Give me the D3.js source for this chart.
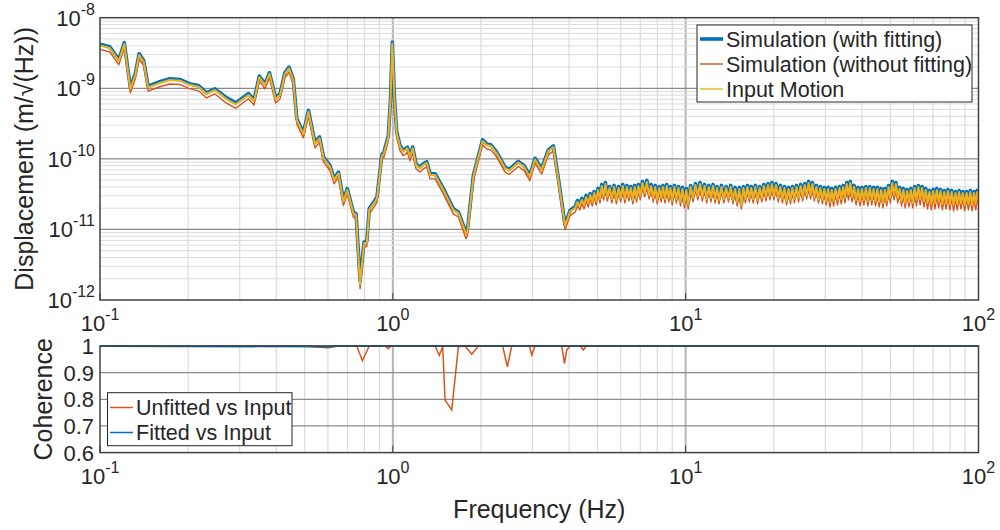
<!DOCTYPE html>
<html>
<head>
<meta charset="utf-8">
<script src="https://cdn.jsdelivr.net/npm/d3@7/dist/d3.min.js"></script>
<style>
  body { margin: 0; background: #fff; }
  svg text { font-family: "Liberation Sans", Arial, sans-serif; fill: #262626; }
</style>
</head>
<body>
<div id="chart"></div>
<script>

// ---- DATA ----
// frequency axis shared by the three ASD curves (Hz)
const freqAsd = [
  0.100, 0.108, 0.116, 0.121, 0.127, 0.132, 0.136, 0.141, 0.146, 0.160,
  0.173, 0.188, 0.203, 0.217, 0.231, 0.247, 0.271, 0.291, 0.321, 0.336,
  0.350, 0.366, 0.379, 0.398, 0.412, 0.428, 0.442, 0.457, 0.470, 0.495,
  0.515, 0.542, 0.562, 0.580, 0.610, 0.630, 0.652, 0.678, 0.699, 0.733,
  0.749, 0.773, 0.797, 0.815, 0.831, 0.869, 0.883, 0.917, 0.933, 0.965,
  0.982, 0.996, 1.013, 1.031, 1.058, 1.086, 1.121, 1.145, 1.169, 1.200,
  1.239, 1.271, 1.306, 1.340, 1.394, 1.488, 1.609, 1.674, 1.778, 1.797,
  1.884, 2.025, 2.093, 2.165, 2.263, 2.417, 2.494, 2.683, 2.806, 2.935,
  3.060, 3.223, 3.397, 3.534, 3.676, 3.873, 4.030,
  // noisy part above 4 Hz
  4.2, 4.27, 4.35, 4.42, 4.5, 4.57, 4.65, 4.72, 4.8, 4.87,
  4.95, 5.02, 5.1, 5.17, 5.25, 5.32, 5.4, 5.5, 5.6, 5.7,
  5.8, 5.9, 6.0, 6.1, 6.2, 6.3, 6.4, 6.5, 6.6, 6.7,
  6.8, 6.9, 7.0, 7.12, 7.25, 7.37, 7.5, 7.62, 7.75, 7.87,
  8.0, 8.12, 8.25, 8.37, 8.5, 8.62, 8.75, 8.87, 9.0, 9.15,
  9.3, 9.45, 9.6, 9.75, 9.9, 10.05, 10.2, 10.4, 10.6, 10.8,
  11.0, 11.2, 11.4, 11.6, 11.8, 12.0, 12.2, 12.4, 12.6, 12.8,
  13.0, 13.25, 13.5, 13.75, 14.0, 14.25, 14.5, 14.75, 15.0, 15.25,
  15.5, 15.75, 16.0, 16.25, 16.5, 16.75, 17.0, 17.3, 17.6, 17.9,
  18.2, 18.5, 18.8, 19.1, 19.4, 19.7, 20, 20.35, 20.7, 21.05,
  21.4, 21.75, 22.1, 22.45, 22.8, 23.15, 23.5, 23.9, 24.3, 24.7,
  25.1, 25.5, 25.9, 26.3, 26.7, 27.1, 27.5, 27.95, 28.4, 28.85,
  29.3, 29.75, 30.2, 30.65, 31.1, 31.55, 32, 32.5, 33, 33.5,
  34, 34.5, 35, 35.5, 36, 36.5, 37, 37.6, 38.2, 38.8,
  39.4, 40, 40.6, 41.25, 41.9, 42.55, 43.2, 43.85, 44.5, 45.15,
  45.8, 46.5, 47.2, 47.9, 48.6, 49.3, 50, 50.75, 51.5, 52.25,
  53, 53.8, 54.6, 55.4, 56.2, 57.05, 57.9, 58.75, 59.6, 60.5,
  61.4, 62.3, 63.2, 64.15, 65.1, 66.05, 67, 68, 69, 70,
  71, 72.05, 73.1, 74.2, 75.3, 76.4, 77.5, 78.65, 79.8, 81,
  82.2, 83.4, 84.6, 85.85, 87.1, 88.4, 89.7, 91.05, 92.4, 93.75,
  95.1, 96.5, 97.9, 98.95, 100
];

// Simulation (with fitting), m/sqrt(Hz)
const asdFitted = [
  4.2e-9, 3.87e-9, 2.54e-9, 4.41e-9, 1.02e-9, 1.6e-9, 3.08e-9, 2.48e-9, 1.07e-9, 1.24e-9,
  1.36e-9, 1.33e-9, 1.15e-9, 1.09e-9, 8.6e-10, 9.8e-10, 7.3e-10, 6.2e-10, 8.4e-10, 6.9e-10,
  1.49e-9, 1.15e-9, 1.66e-9, 7.3e-10, 8.4e-10, 1.66e-9, 1.99e-9, 1.36e-9, 3.7e-10, 2.34e-10,
  4.86e-10, 1.7e-10, 2.04e-10, 1.06e-10, 8.07e-11, 5.22e-11, 6.5e-11, 2.58e-11, 3.78e-11, 1.77e-11,
  1.66e-11, 1.85e-12, 6.6e-12, 6.8e-12, 1.97e-11, 2.58e-11, 2.88e-11, 1.14e-10, 1.26e-10, 2.12e-10,
  7.1e-10, 4.5e-9, 7.1e-10, 2.4e-10, 1.55e-10, 1.31e-10, 1.47e-10, 1.11e-10, 1.47e-10, 8.5e-11,
  7.65e-11, 8.5e-11, 9.1e-11, 6.15e-11, 6.15e-11, 3.78e-11, 1.97e-11, 1.77e-11, 9.0e-12, 9.6e-12,
  5.8e-11, 1.86e-10, 1.63e-10, 1.57e-10, 1.25e-10, 7.65e-11, 7.1e-11, 9.2e-11, 8.07e-11, 5.8e-11,
  1.02e-10, 7.25e-11, 1.34e-10, 1.53e-10, 5.2e-11, 1.16e-11, 1.86e-11,
  2.12e-11, 2.57e-11, 2.26e-11, 2.75e-11, 2.33e-11, 3.03e-11, 2.49e-11, 3.23e-11, 2.57e-11, 3.45e-11,
  2.66e-11, 3.81e-11, 2.84e-11, 4.34e-11, 3.13e-11, 4.63e-11, 3.03e-11, 4.06e-11, 2.84e-11, 4.20e-11,
  2.75e-11, 4.06e-11, 2.93e-11, 4.34e-11, 2.84e-11, 4.20e-11, 3.03e-11, 4.06e-11, 2.75e-11, 4.20e-11,
  2.93e-11, 4.34e-11, 3.13e-11, 4.79e-11, 3.45e-11, 4.95e-11, 3.23e-11, 4.34e-11, 2.93e-11, 4.20e-11,
  2.75e-11, 4.06e-11, 2.93e-11, 4.20e-11, 2.84e-11, 4.34e-11, 2.93e-11, 4.06e-11, 2.66e-11, 4.20e-11,
  2.84e-11, 4.06e-11, 2.57e-11, 3.94e-11, 2.42e-11, 3.81e-11, 2.33e-11, 4.20e-11, 2.93e-11, 4.48e-11,
  3.13e-11, 4.63e-11, 3.03e-11, 4.34e-11, 2.84e-11, 4.20e-11, 2.93e-11, 4.34e-11, 2.84e-11, 4.06e-11,
  2.75e-11, 4.20e-11, 2.84e-11, 4.06e-11, 2.93e-11, 4.20e-11, 2.75e-11, 3.94e-11, 2.57e-11, 3.94e-11,
  2.33e-11, 4.06e-11, 2.84e-11, 4.20e-11, 2.93e-11, 4.06e-11, 2.84e-11, 4.20e-11, 2.75e-11, 4.06e-11,
  2.93e-11, 4.34e-11, 3.03e-11, 4.48e-11, 3.13e-11, 4.63e-11, 3.13e-11, 4.48e-11, 2.93e-11, 4.20e-11,
  2.84e-11, 4.06e-11, 2.66e-11, 3.94e-11, 2.75e-11, 4.06e-11, 2.84e-11, 4.20e-11, 2.93e-11, 4.34e-11,
  3.03e-11, 4.48e-11, 3.23e-11, 4.79e-11, 3.23e-11, 4.63e-11, 3.03e-11, 4.20e-11, 2.84e-11, 4.06e-11,
  2.75e-11, 3.94e-11, 2.66e-11, 3.94e-11, 2.57e-11, 3.81e-11, 2.66e-11, 3.94e-11, 2.75e-11, 4.06e-11,
  2.84e-11, 4.20e-11, 2.93e-11, 4.63e-11, 3.23e-11, 4.79e-11, 3.03e-11, 4.20e-11, 2.75e-11, 3.94e-11,
  2.66e-11, 3.94e-11, 2.75e-11, 4.06e-11, 2.66e-11, 4.06e-11, 2.75e-11, 3.94e-11, 2.66e-11, 3.94e-11,
  2.57e-11, 3.81e-11, 2.49e-11, 3.81e-11, 2.66e-11, 4.20e-11, 2.93e-11, 4.79e-11, 3.23e-11, 4.63e-11,
  2.93e-11, 3.94e-11, 2.66e-11, 3.81e-11, 2.49e-11, 3.69e-11, 2.57e-11, 3.81e-11, 2.49e-11, 4.06e-11,
  2.75e-11, 4.20e-11, 2.84e-11, 4.06e-11, 2.66e-11, 3.81e-11, 2.49e-11, 3.57e-11, 2.42e-11, 3.69e-11,
  2.49e-11, 3.81e-11, 2.57e-11, 3.69e-11, 2.42e-11, 3.57e-11, 2.49e-11, 3.69e-11, 2.42e-11, 3.57e-11,
  2.33e-11, 3.45e-11, 2.42e-11, 3.57e-11, 2.49e-11, 3.45e-11, 2.33e-11, 3.45e-11, 2.42e-11, 3.57e-11,
  2.33e-11, 3.45e-11, 2.42e-11, 3.57e-11, 2.75e-11
];

// Simulation (without fitting)
const asdUnfitted = [
  3.56e-9, 3.27e-9, 2.15e-9, 3.73e-9, 8.6e-10, 1.36e-9, 2.6e-9, 2.09e-9, 9.1e-10, 1.05e-9,
  1.15e-9, 1.13e-9, 9.8e-10, 9.2e-10, 7.3e-10, 8.3e-10, 6.1e-10, 5.2e-10, 7.1e-10, 5.8e-10,
  1.26e-9, 9.8e-10, 1.41e-9, 6.2e-10, 7.1e-10, 1.41e-9, 1.68e-9, 1.15e-9, 3.13e-10, 1.98e-10,
  4.1e-10, 1.43e-10, 1.72e-10, 8.98e-11, 6.83e-11, 4.42e-11, 5.5e-11, 2.18e-11, 3.19e-11, 1.5e-11,
  1.41e-11, 1.45e-12, 5.6e-12, 5.7e-12, 1.66e-11, 2.18e-11, 2.44e-11, 9.7e-11, 1.06e-10, 1.8e-10,
  6.0e-10, 3.9e-9, 6.0e-10, 2.03e-10, 1.31e-10, 1.11e-10, 1.24e-10, 9.4e-11, 1.24e-10, 7.2e-11,
  6.5e-11, 7.2e-11, 7.7e-11, 5.2e-11, 5.2e-11, 3.19e-11, 1.66e-11, 1.5e-11, 7.4e-12, 8.1e-12,
  4.9e-11, 1.58e-10, 1.38e-10, 1.33e-10, 1.06e-10, 6.5e-11, 6.0e-11, 7.8e-11, 6.8e-11, 4.9e-11,
  8.6e-11, 6.1e-11, 1.14e-10, 1.29e-10, 4.4e-11, 9.9e-12, 1.58e-11,
  1.77e-11, 2.15e-11, 1.89e-11, 2.30e-11, 1.95e-11, 2.53e-11, 2.08e-11, 2.70e-11, 2.15e-11, 2.89e-11,
  2.22e-11, 3.18e-11, 2.37e-11, 3.63e-11, 2.62e-11, 3.87e-11, 2.53e-11, 3.40e-11, 2.37e-11, 3.51e-11,
  2.30e-11, 3.40e-11, 2.45e-11, 3.63e-11, 2.37e-11, 3.51e-11, 2.53e-11, 3.40e-11, 2.30e-11, 3.51e-11,
  2.45e-11, 3.63e-11, 2.62e-11, 4.00e-11, 2.89e-11, 4.13e-11, 2.70e-11, 3.63e-11, 2.45e-11, 3.51e-11,
  2.30e-11, 3.40e-11, 2.45e-11, 3.51e-11, 2.37e-11, 3.63e-11, 2.45e-11, 3.40e-11, 2.22e-11, 3.51e-11,
  2.37e-11, 3.40e-11, 2.15e-11, 3.29e-11, 2.02e-11, 3.18e-11, 1.95e-11, 3.51e-11, 2.45e-11, 3.75e-11,
  2.62e-11, 3.87e-11, 2.53e-11, 3.63e-11, 2.37e-11, 3.51e-11, 2.45e-11, 3.63e-11, 2.37e-11, 3.40e-11,
  2.30e-11, 3.51e-11, 2.37e-11, 3.40e-11, 2.45e-11, 3.51e-11, 2.30e-11, 3.29e-11, 2.15e-11, 3.29e-11,
  1.95e-11, 3.40e-11, 2.37e-11, 3.51e-11, 2.45e-11, 3.40e-11, 2.37e-11, 3.51e-11, 2.30e-11, 3.40e-11,
  2.45e-11, 3.63e-11, 2.53e-11, 3.75e-11, 2.62e-11, 3.87e-11, 2.62e-11, 3.75e-11, 2.45e-11, 3.51e-11,
  2.37e-11, 3.40e-11, 2.22e-11, 3.29e-11, 2.30e-11, 3.40e-11, 2.37e-11, 3.51e-11, 2.45e-11, 3.63e-11,
  2.53e-11, 3.75e-11, 2.70e-11, 4.00e-11, 2.70e-11, 3.87e-11, 2.53e-11, 3.51e-11, 2.37e-11, 3.40e-11,
  2.30e-11, 3.29e-11, 2.22e-11, 3.18e-11, 2.08e-11, 3.08e-11, 2.15e-11, 3.18e-11, 2.22e-11, 3.29e-11,
  2.30e-11, 3.40e-11, 2.37e-11, 3.75e-11, 2.62e-11, 3.87e-11, 2.45e-11, 3.40e-11, 2.22e-11, 3.18e-11,
  2.15e-11, 3.18e-11, 2.22e-11, 3.29e-11, 2.15e-11, 3.29e-11, 2.22e-11, 3.18e-11, 2.15e-11, 3.18e-11,
  2.08e-11, 3.08e-11, 2.02e-11, 3.08e-11, 2.15e-11, 3.40e-11, 2.37e-11, 3.87e-11, 2.62e-11, 3.75e-11,
  2.37e-11, 3.18e-11, 2.15e-11, 3.08e-11, 2.02e-11, 2.98e-11, 2.08e-11, 3.08e-11, 2.02e-11, 3.18e-11,
  2.15e-11, 3.29e-11, 2.22e-11, 3.18e-11, 2.08e-11, 2.98e-11, 1.95e-11, 2.79e-11, 1.89e-11, 2.89e-11,
  1.95e-11, 2.98e-11, 2.02e-11, 2.89e-11, 1.89e-11, 2.79e-11, 1.95e-11, 2.89e-11, 1.89e-11, 2.79e-11,
  1.83e-11, 2.70e-11, 1.89e-11, 2.79e-11, 1.95e-11, 2.70e-11, 1.83e-11, 2.70e-11, 1.89e-11, 2.79e-11,
  1.83e-11, 2.70e-11, 1.89e-11, 2.79e-11, 2.15e-11
];

// Input Motion
const asdInput = [
  4.04e-9, 3.72e-9, 2.44e-9, 4.24e-9, 9.77e-10, 1.54e-9, 2.96e-9, 2.38e-9, 1.03e-9, 1.19e-9,
  1.31e-9, 1.28e-9, 1.11e-9, 1.05e-9, 8.30e-10, 9.46e-10, 6.98e-10, 5.93e-10, 8.04e-10, 6.61e-10,
  1.43e-9, 1.11e-9, 1.60e-9, 7.05e-10, 8.04e-10, 1.60e-9, 1.91e-9, 1.31e-9, 3.56e-10, 2.25e-10,
  4.67e-10, 1.63e-10, 1.96e-10, 1.02e-10, 7.76e-11, 5.02e-11, 6.25e-11, 2.48e-11, 3.63e-11, 1.70e-11,
  1.60e-11, 1.69e-12, 6.38e-12, 6.50e-12, 1.89e-11, 2.48e-11, 2.77e-11, 1.10e-10, 1.21e-10, 2.04e-10,
  6.82e-10, 4.31e-9, 6.82e-10, 2.31e-10, 1.49e-10, 1.26e-10, 1.41e-10, 1.07e-10, 1.41e-10, 8.20e-11,
  7.36e-11, 8.20e-11, 8.75e-11, 5.92e-11, 5.92e-11, 3.63e-11, 1.89e-11, 1.70e-11, 8.63e-12, 9.23e-12,
  5.60e-11, 1.79e-10, 1.57e-10, 1.51e-10, 1.20e-10, 7.36e-11, 6.85e-11, 8.84e-11, 7.76e-11, 5.60e-11,
  9.81e-11, 6.97e-11, 1.29e-10, 1.47e-10, 5.02e-11, 1.12e-11, 1.79e-11,
  2.02e-11, 2.45e-11, 2.15e-11, 2.62e-11, 2.22e-11, 2.89e-11, 2.37e-11, 3.08e-11, 2.45e-11, 3.29e-11,
  2.53e-11, 3.63e-11, 2.70e-11, 4.13e-11, 2.98e-11, 4.41e-11, 2.89e-11, 3.87e-11, 2.70e-11, 4.00e-11,
  2.62e-11, 3.87e-11, 2.79e-11, 4.13e-11, 2.70e-11, 4.00e-11, 2.89e-11, 3.87e-11, 2.62e-11, 4.00e-11,
  2.79e-11, 4.13e-11, 2.98e-11, 4.56e-11, 3.29e-11, 4.71e-11, 3.08e-11, 4.13e-11, 2.79e-11, 4.00e-11,
  2.62e-11, 3.87e-11, 2.79e-11, 4.00e-11, 2.70e-11, 4.13e-11, 2.79e-11, 3.87e-11, 2.53e-11, 4.00e-11,
  2.70e-11, 3.87e-11, 2.45e-11, 3.75e-11, 2.30e-11, 3.63e-11, 2.22e-11, 4.00e-11, 2.79e-11, 4.27e-11,
  2.98e-11, 4.41e-11, 2.89e-11, 4.13e-11, 2.70e-11, 4.00e-11, 2.79e-11, 4.13e-11, 2.70e-11, 3.87e-11,
  2.62e-11, 4.00e-11, 2.70e-11, 3.87e-11, 2.79e-11, 4.00e-11, 2.62e-11, 3.75e-11, 2.45e-11, 3.75e-11,
  2.22e-11, 3.87e-11, 2.70e-11, 4.00e-11, 2.79e-11, 3.87e-11, 2.70e-11, 4.00e-11, 2.62e-11, 3.87e-11,
  2.79e-11, 4.13e-11, 2.89e-11, 4.27e-11, 2.98e-11, 4.41e-11, 2.98e-11, 4.27e-11, 2.79e-11, 4.00e-11,
  2.70e-11, 3.87e-11, 2.53e-11, 3.75e-11, 2.62e-11, 3.87e-11, 2.70e-11, 4.00e-11, 2.79e-11, 4.13e-11,
  2.89e-11, 4.27e-11, 3.08e-11, 4.56e-11, 3.08e-11, 4.41e-11, 2.89e-11, 4.00e-11, 2.70e-11, 3.87e-11,
  2.62e-11, 3.75e-11, 2.53e-11, 3.75e-11, 2.45e-11, 3.63e-11, 2.53e-11, 3.75e-11, 2.62e-11, 3.87e-11,
  2.70e-11, 4.00e-11, 2.79e-11, 4.41e-11, 3.08e-11, 4.56e-11, 2.89e-11, 4.00e-11, 2.62e-11, 3.75e-11,
  2.53e-11, 3.75e-11, 2.62e-11, 3.87e-11, 2.53e-11, 3.87e-11, 2.62e-11, 3.75e-11, 2.53e-11, 3.75e-11,
  2.45e-11, 3.63e-11, 2.37e-11, 3.63e-11, 2.53e-11, 4.00e-11, 2.79e-11, 4.56e-11, 3.08e-11, 4.41e-11,
  2.79e-11, 3.75e-11, 2.53e-11, 3.63e-11, 2.37e-11, 3.51e-11, 2.45e-11, 3.63e-11, 2.37e-11, 3.87e-11,
  2.62e-11, 4.00e-11, 2.70e-11, 3.87e-11, 2.53e-11, 3.63e-11, 2.37e-11, 3.40e-11, 2.30e-11, 3.51e-11,
  2.37e-11, 3.63e-11, 2.45e-11, 3.51e-11, 2.30e-11, 3.40e-11, 2.37e-11, 3.51e-11, 2.30e-11, 3.40e-11,
  2.22e-11, 3.29e-11, 2.30e-11, 3.40e-11, 2.37e-11, 3.29e-11, 2.22e-11, 3.29e-11, 2.30e-11, 3.40e-11,
  2.22e-11, 3.29e-11, 2.30e-11, 3.40e-11, 2.62e-11
];

// coherence
const freqCoh = [0.1, 0.5, 0.55, 0.6, 0.65, 0.753, 0.787, 0.831, 0.94, 0.965, 0.986,
  1.394, 1.441, 1.48, 1.508, 1.589, 1.674, 1.765, 1.86, 1.959, 2.373, 2.461, 2.547,
  2.926, 2.982, 3.06, 3.776, 3.854, 3.927, 4.03, 4.359, 4.474, 4.57, 100];
const cohUnfitted = [1, 1, 0.996, 0.993, 1, 1, 0.945, 1, 1, 0.99, 1,
  1, 0.965, 0.997, 0.797, 0.76, 0.997, 1, 0.969, 1, 1, 0.922, 1,
  1, 0.966, 1, 1, 0.935, 0.985, 1, 1, 0.985, 1, 1];
const freqCohFitted = [0.1, 0.56, 0.6, 0.64, 100];
const cohFitted = [1, 0.998, 0.997, 1, 1];

// tick values
const xTicks = [0.1, 1, 10, 100];
const yTicksAsd = [1e-12, 1e-11, 1e-10, 1e-9, 1e-8];
const yTicksCoh = [0.6, 0.7, 0.8, 0.9, 1];
const cohTickLabels = ['0.6', '0.7', '0.8', '0.9', '1'];

const legendAsd = ['Simulation (with fitting)', 'Simulation (without fitting)', 'Input Motion'];
const legendCoh = ['Unfitted vs Input', 'Fitted vs Input'];


class AsdFigure {

  constructor(_parentContainer) {
    this.parentContainer = _parentContainer;
    this.initStaticVis();
  }

  initStaticVis() {
    this.widthTotal = 1000;
    this.heightTotal = 530;

    // plot boxes (matlab style two stacked axes)
    this.left = 100;
    this.right = 978.5;
    this.top1 = { top: 17.7, bottom: 300 };
    this.top2 = { top: 346, bottom: 452.6 };

    this.colors = { blue: '#0072BD', orange: '#D95319', yellow: '#EDB120' };

    this.svg = d3.select(this.parentContainer)
      .append('svg')
      .attr('width', this.widthTotal)
      .attr('height', this.heightTotal);

    this.createScales();
    this.addGrid();
    this.addLines();
    this.addAxes();
    this.addLegends();
  }

  createScales() {
    this.xScale = d3.scaleLog()
      .domain([0.1, 100])
      .range([this.left, this.right]);

    this.yAsd = d3.scaleLog()
      .domain([1e-12, 1e-8])
      .range([this.top1.bottom, this.top1.top]);

    this.yCoh = d3.scaleLinear()
      .domain([0.6, 1])
      .range([this.top2.bottom, this.top2.top]);
  }

  addGrid() {
    // minor positions inside each decade
    let xMinor = [];
    xTicks.slice(0, -1).forEach(d => {
      for (let k = 2; k < 10; k++) xMinor.push(d * k);
    });
    let yMinor = [];
    yTicksAsd.slice(0, -1).forEach(d => {
      for (let k = 2; k < 10; k++) yMinor.push(d * k);
    });

    [this.top1, this.top2].forEach(box => {
      let g = this.svg.append('g');
      g.selectAll('.xminor')
        .data(xMinor)
        .enter().append('line')
        .attr('x1', d => this.xScale(d)).attr('x2', d => this.xScale(d))
        .attr('y1', box.top).attr('y2', box.bottom)
        .attr('stroke', '#dcdcdc').attr('stroke-width', 1.2);
      g.selectAll('.xmajor')
        .data(xTicks.slice(1, -1))
        .enter().append('line')
        .attr('x1', d => this.xScale(d)).attr('x2', d => this.xScale(d))
        .attr('y1', box.top).attr('y2', box.bottom)
        .attr('stroke', '#b4b4b4').attr('stroke-width', 2);
    });

    let g1 = this.svg.append('g');
    g1.selectAll('.yminor')
      .data(yMinor)
      .enter().append('line')
      .attr('x1', this.left).attr('x2', this.right)
      .attr('y1', d => this.yAsd(d)).attr('y2', d => this.yAsd(d))
      .attr('stroke', '#dcdcdc').attr('stroke-width', 1);
    g1.selectAll('.ymajor')
      .data(yTicksAsd.slice(1, -1))
      .enter().append('line')
      .attr('x1', this.left).attr('x2', this.right)
      .attr('y1', d => this.yAsd(d)).attr('y2', d => this.yAsd(d))
      .attr('stroke', '#8c8c8c').attr('stroke-width', 1.3);

    let g2 = this.svg.append('g');
    g2.selectAll('.ymajor')
      .data(yTicksCoh.slice(1, -1))
      .enter().append('line')
      .attr('x1', this.left).attr('x2', this.right)
      .attr('y1', d => this.yCoh(d)).attr('y2', d => this.yCoh(d))
      .attr('stroke', '#8c8c8c').attr('stroke-width', 1.3);
  }

  addLines() {
    let defs = this.svg.append('defs');
    [['clip1', this.top1], ['clip2', this.top2]].forEach(([id, box]) => {
      defs.append('clipPath').attr('id', id)
        .append('rect')
        .attr('x', this.left).attr('y', box.top - 3)
        .attr('width', this.right - this.left).attr('height', box.bottom - box.top + 3);
    });

    let asdLine = d3.line()
      .x(d => this.xScale(d[0]))
      .y(d => this.yAsd(d[1]));

    let g1 = this.svg.append('g').attr('clip-path', 'url(#clip1)');
    [[asdFitted, this.colors.blue, 3.6],
     [asdUnfitted, this.colors.orange, 1.4],
     [asdInput, this.colors.yellow, 2]].forEach(([vals, col, w]) => {
      g1.append('path')
        .datum(d3.zip(freqAsd, vals))
        .attr('d', asdLine)
        .attr('fill', 'none')
        .attr('stroke', col)
        .attr('stroke-width', w)
        .attr('stroke-linejoin', 'round');
    });

    let cohLine = d3.line()
      .x(d => this.xScale(d[0]))
      .y(d => this.yCoh(d[1]));

    let g2 = this.svg.append('g').attr('clip-path', 'url(#clip2)');
    g2.append('path')
      .datum(d3.zip(freqCoh, cohUnfitted))
      .attr('d', cohLine)
      .attr('fill', 'none')
      .attr('stroke', this.colors.orange)
      .attr('stroke-width', 1.5);
    g2.append('path')
      .datum(d3.zip(freqCohFitted, cohFitted))
      .attr('d', cohLine)
      .attr('fill', 'none')
      .attr('stroke', this.colors.blue)
      .attr('stroke-width', 2);
  }

  // "10" with a superscript exponent
  powerLabel(sel, v) {
    let e = Math.round(Math.log10(v));
    sel.append('tspan').text('10');
    sel.append('tspan')
      .attr('dy', -11)
      .style('font-size', '16px')
      .text(e);
  }

  addAxes() {
    let fs = 22;

    [this.top1, this.top2].forEach(box => {
      // frame
      this.svg.append('rect')
        .attr('x', this.left).attr('y', box.top)
        .attr('width', this.right - this.left)
        .attr('height', box.bottom - box.top)
        .attr('fill', 'none')
        .attr('stroke', '#404040')
        .attr('stroke-width', 1.5);

      // x tick labels under each axes
      xTicks.forEach(t => {
        let txt = this.svg.append('text')
          .attr('x', this.xScale(t))
          .attr('y', box.bottom + 31)
          .attr('text-anchor', 'middle')
          .style('font-size', fs + 'px');
        this.powerLabel(txt, t);
      });

      // inward ticks
      let g = this.svg.append('g');
      g.selectAll('line')
        .data(xTicks)
        .enter().append('line')
        .attr('x1', d => this.xScale(d)).attr('x2', d => this.xScale(d))
        .attr('y1', box.bottom).attr('y2', box.bottom - 7)
        .attr('stroke', '#404040').attr('stroke-width', 1);
    });

    // y tick labels, top axes
    yTicksAsd.forEach(t => {
      let txt = this.svg.append('text')
        .attr('x', 95)
        .attr('y', this.yAsd(t) + 8)
        .attr('text-anchor', 'end')
        .style('font-size', fs + 'px');
      this.powerLabel(txt, t);
    });

    // y tick labels, coherence
    yTicksCoh.forEach((t, i) => {
      this.svg.append('text')
        .attr('x', 94)
        .attr('y', this.yCoh(t) + 8)
        .attr('text-anchor', 'end')
        .style('font-size', fs + 'px')
        .text(cohTickLabels[i]);
    });

    // axis titles
    this.svg.append('text')
      .attr('transform', `translate(33, ${(this.top1.top + this.top1.bottom) / 2}) rotate(-90)`)
      .attr('text-anchor', 'middle')
      .style('font-size', '25px')
      .text('Displacement (m/\u221A(Hz))');

    this.svg.append('text')
      .attr('transform', `translate(52, ${(this.top2.top + this.top2.bottom) / 2}) rotate(-90)`)
      .attr('text-anchor', 'middle')
      .style('font-size', '25px')
      .text('Coherence');

    this.svg.append('text')
      .attr('x', (this.left + this.right) / 2)
      .attr('y', 518)
      .attr('text-anchor', 'middle')
      .style('font-size', '25px')
      .text('Frequency (Hz)');
  }

  addLegends() {
    // LEGEND - ASD panel
    let lg1 = this.svg.append('g');
    lg1.append('rect')
      .attr('x', 697).attr('y', 25)
      .attr('width', 275).attr('height', 77)
      .attr('fill', '#fff')
      .attr('stroke', '#262626').attr('stroke-width', 1);

    [[this.colors.blue, 3.6], [this.colors.orange, 1.4], [this.colors.yellow, 1.4]].forEach(([col, w], idx) => {
      let cy = 39 + idx * 25;
      lg1.append('line')
        .attr('x1', 700).attr('x2', 723)
        .attr('y1', cy).attr('y2', cy)
        .attr('stroke', col).attr('stroke-width', w);
      lg1.append('text')
        .attr('x', 726).attr('y', cy + 7.5)
        .style('font-size', '21.5px')
        .text(legendAsd[idx]);
    });

    // LEGEND - coherence panel
    let lg2 = this.svg.append('g');
    lg2.append('rect')
      .attr('x', 107.5).attr('y', 392.7)
      .attr('width', 184.5).attr('height', 53)
      .attr('fill', '#fff')
      .attr('stroke', '#262626').attr('stroke-width', 1);

    [this.colors.orange, this.colors.blue].forEach((col, idx) => {
      let cy = 407.5 + idx * 25;
      lg2.append('line')
        .attr('x1', 110).attr('x2', 133)
        .attr('y1', cy).attr('y2', cy)
        .attr('stroke', col).attr('stroke-width', 1.5);
      lg2.append('text')
        .attr('x', 136).attr('y', cy + 7.5)
        .style('font-size', '21.5px')
        .text(legendCoh[idx]);
    });
  }

}

new AsdFigure('#chart');
</script>
</body>
</html>
